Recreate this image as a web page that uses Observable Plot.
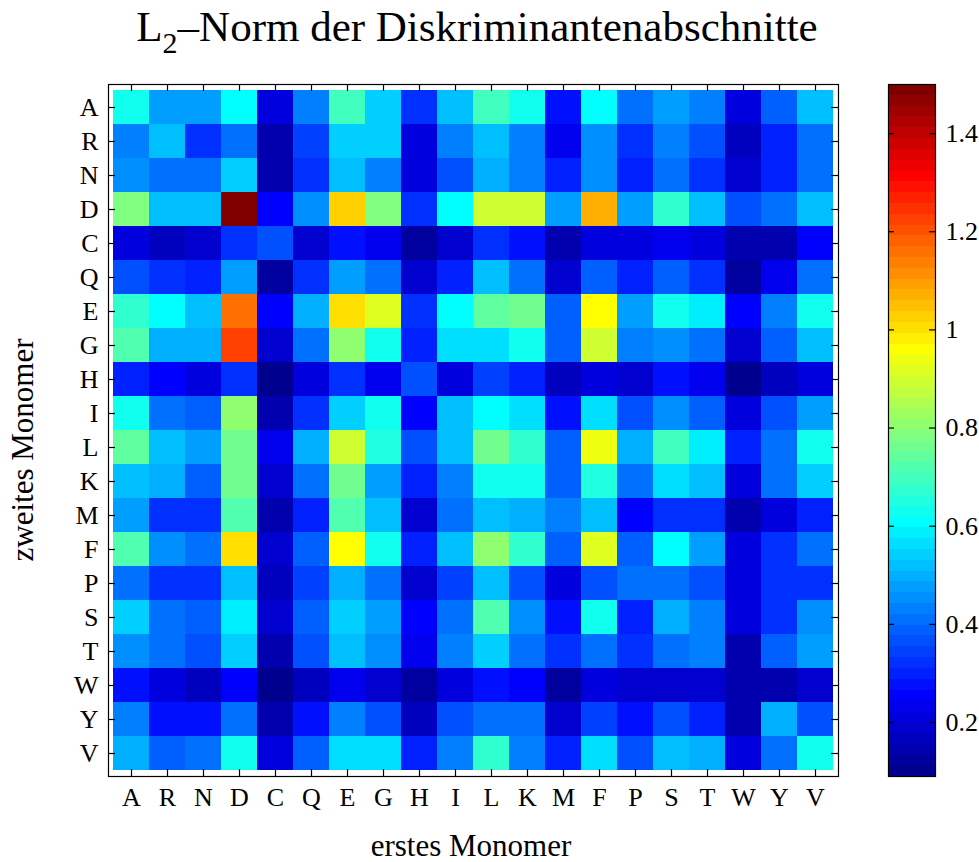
<!DOCTYPE html>
<html>
<head>
<meta charset="utf-8">
<script src="https://cdn.jsdelivr.net/npm/d3@7"></script>
<script src="https://cdn.jsdelivr.net/npm/@observablehq/plot@0.6"></script>
<style>
  html, body { margin: 0; padding: 0; background: #fff; }
  #wrap { position: relative; width: 979px; height: 862px; overflow: hidden; font-family: "Liberation Serif", serif; color: #000; }
  #wrap svg { position: absolute; top: 0; }
  .lbl { position: absolute; white-space: nowrap; font-family: "Liberation Serif", serif; }
</style>
</head>
<body>
<div id="wrap">
  <div class="lbl" id="title" style="left:0;width:954px;top:2px;text-align:center;font-size:43px;">L<sub style="font-size:30px;position:relative;top:12px;vertical-align:baseline;">2</sub>–Norm der Diskriminantenabschnitte</div>
  <div class="lbl" id="xlab" style="left:0;width:942px;top:828px;text-align:center;font-size:31px;">erstes Monomer</div>
  <div class="lbl" id="ylab" style="left:23px;top:450px;font-size:31px;transform:translate(-50%,-50%) rotate(-90deg);">zweites Monomer</div>
</div>
<script>
// Amino-acid order (both axes)
const monomers = ["A","R","N","D","C","Q","E","G","H","I","L","K","M","F","P","S","T","W","Y","V"];

// L2 norm values: rows = zweites Monomer, columns = erstes Monomer (same order as monomers)
const rowA = [0.64,0.48,0.47,0.60,0.22,0.44,0.70,0.55,0.32,0.53,0.70,0.62,0.28,0.60,0.40,0.48,0.44,0.21,0.38,0.53];
const rowR = [0.44,0.53,0.33,0.40,0.14,0.34,0.55,0.55,0.21,0.44,0.52,0.43,0.23,0.45,0.32,0.44,0.36,0.17,0.31,0.40];
const rowN = [0.45,0.40,0.40,0.54,0.15,0.32,0.53,0.44,0.22,0.36,0.50,0.44,0.31,0.45,0.31,0.40,0.33,0.18,0.31,0.40];
const rowD = [0.79,0.53,0.52,1.50,0.26,0.45,1.035,0.79,0.32,0.60,0.89,0.89,0.47,1.07,0.48,0.68,0.53,0.36,0.42,0.51];
const rowC = [0.22,0.16,0.20,0.33,0.36,0.19,0.28,0.23,0.12,0.19,0.33,0.28,0.15,0.21,0.21,0.23,0.21,0.14,0.14,0.26];
const rowQ = [0.37,0.33,0.30,0.47,0.12,0.33,0.48,0.41,0.20,0.31,0.51,0.40,0.20,0.39,0.31,0.39,0.33,0.12,0.24,0.42];
const rowE = [0.68,0.60,0.51,1.15,0.26,0.49,1.01,0.91,0.32,0.60,0.75,0.77,0.38,0.97,0.47,0.62,0.58,0.26,0.44,0.62];
const rowG = [0.72,0.49,0.49,1.23,0.19,0.41,0.81,0.64,0.30,0.56,0.57,0.64,0.38,0.89,0.44,0.45,0.42,0.19,0.38,0.51];
const rowH = [0.31,0.26,0.21,0.33,0.11,0.22,0.33,0.24,0.36,0.22,0.34,0.31,0.16,0.22,0.19,0.28,0.23,0.11,0.16,0.21];
const rowI = [0.62,0.40,0.39,0.81,0.15,0.33,0.55,0.64,0.26,0.51,0.60,0.57,0.28,0.57,0.37,0.45,0.38,0.22,0.36,0.47];
const rowL = [0.75,0.53,0.48,0.77,0.24,0.50,0.89,0.66,0.37,0.53,0.77,0.68,0.38,0.93,0.49,0.70,0.58,0.31,0.42,0.62];
const rowK = [0.53,0.49,0.38,0.77,0.18,0.42,0.77,0.47,0.30,0.43,0.62,0.64,0.38,0.66,0.40,0.57,0.51,0.22,0.41,0.55];
const rowM = [0.48,0.33,0.32,0.72,0.14,0.31,0.72,0.51,0.19,0.40,0.53,0.49,0.44,0.53,0.26,0.32,0.32,0.14,0.21,0.31];
const rowF = [0.72,0.45,0.40,1.01,0.18,0.39,0.95,0.62,0.30,0.51,0.81,0.68,0.38,0.91,0.39,0.60,0.48,0.21,0.33,0.42];
const rowP = [0.40,0.33,0.33,0.53,0.16,0.34,0.49,0.42,0.19,0.34,0.52,0.37,0.21,0.36,0.40,0.41,0.37,0.22,0.32,0.32];
const rowS = [0.55,0.41,0.39,0.59,0.18,0.39,0.55,0.47,0.26,0.42,0.72,0.45,0.28,0.62,0.31,0.50,0.44,0.21,0.32,0.45];
const rowT = [0.45,0.40,0.36,0.54,0.14,0.36,0.53,0.45,0.23,0.43,0.55,0.40,0.32,0.42,0.32,0.42,0.44,0.15,0.39,0.47];
const rowW = [0.28,0.21,0.17,0.26,0.09,0.16,0.23,0.20,0.13,0.22,0.28,0.26,0.12,0.22,0.19,0.20,0.20,0.14,0.15,0.18];
const rowY = [0.44,0.28,0.28,0.41,0.14,0.28,0.44,0.37,0.16,0.37,0.41,0.41,0.20,0.34,0.28,0.36,0.30,0.14,0.49,0.36];
const rowV = [0.50,0.39,0.41,0.62,0.22,0.38,0.56,0.56,0.30,0.44,0.68,0.43,0.30,0.57,0.36,0.53,0.49,0.22,0.40,0.62];
const rows = [rowA,rowR,rowN,rowD,rowC,rowQ,rowE,rowG,rowH,rowI,rowL,rowK,rowM,rowF,rowP,rowS,rowT,rowW,rowY,rowV];

// colour range and colour-bar ticks
const colorDomain = [0.09, 1.5];
const colorTicks = [0.2, 0.4, 0.6, 0.8, 1, 1.2, 1.4];

// MATLAB jet(64) colormap as an interpolator
function jet64(t) {
  const k = Math.max(1, Math.min(64, Math.floor(t * 64) + 1));
  const u = j => (j < 1 || j > 47) ? 0 : j <= 16 ? j / 16 : j <= 31 ? 1 : (17 - (j - 31)) / 16;
  const r = u(k - 24), g = u(k - 8), b = u(k + 8);
  return `rgb(${Math.round(r * 255)},${Math.round(g * 255)},${Math.round(b * 255)})`;
}

const table = [];
rows.forEach((row, i) => row.forEach((v, j) => table.push({first: monomers[j], second: monomers[i], v})));

const colorOpts = {type: "linear", domain: colorDomain, interpolate: jet64};
const font = {fontFamily: "Liberation Serif, serif", fontSize: "26px", background: "transparent", overflow: "visible"};

const plotH = 862 - 84 - 86;
const plotW = 870 - 108 - 32;

const main = Plot.plot({
  width: 870, height: 862,
  marginLeft: 108, marginRight: 32, marginTop: 84, marginBottom: 86,
  style: font,
  x: {domain: monomers, padding: 0, axis: null},
  y: {domain: monomers, padding: 0, axis: null},
  color: colorOpts,
  marks: [
    Plot.cell(table, {x: "first", y: "second", fill: "v", inset: 0, shapeRendering: "crispEdges"}),
    Plot.tickX(monomers, {x: d => d, insetBottom: plotH - 7, stroke: "black", strokeWidth: 1.2}),
    Plot.tickX(monomers, {x: d => d, insetTop: plotH - 7, stroke: "black", strokeWidth: 1.2}),
    Plot.tickY(monomers, {y: d => d, insetRight: plotW - 7, stroke: "black", strokeWidth: 1.2}),
    Plot.tickY(monomers, {y: d => d, insetLeft: plotW - 7, stroke: "black", strokeWidth: 1.2}),
    Plot.frame({stroke: "black", strokeWidth: 1.2}),
    Plot.axisX({anchor: "bottom", tickSize: 0, tickPadding: 11, label: null, fontSize: 26}),
    Plot.axisY({anchor: "left", tickSize: 0, tickPadding: 10, label: null, fontSize: 26})
  ]
});
main.style.left = "0px";

const barLevels = d3.range(64).map(i => {
  const lo = colorDomain[0] + (colorDomain[1] - colorDomain[0]) * i / 64;
  const hi = colorDomain[0] + (colorDomain[1] - colorDomain[0]) * (i + 1) / 64;
  return {lo, hi, mid: (lo + hi) / 2};
});

const bar = Plot.plot({
  width: 119, height: 862,
  marginLeft: 28, marginRight: 44, marginTop: 84, marginBottom: 86,
  style: font,
  y: {domain: colorDomain, axis: null},
  color: colorOpts,
  marks: [
    Plot.rect(barLevels, {y1: "lo", y2: "hi", fill: "mid", shapeRendering: "crispEdges"}),
    Plot.tickY(colorTicks, {y: d => d, insetRight: 47 - 6, stroke: "black", strokeWidth: 1.2}),
    Plot.tickY(colorTicks, {y: d => d, insetLeft: 47 - 6, stroke: "black", strokeWidth: 1.2}),
    Plot.frame({stroke: "black", strokeWidth: 1.2}),
    Plot.axisY({anchor: "right", ticks: colorTicks, tickSize: 0, tickPadding: 10, label: null, fontSize: 26,
      tickFormat: d => String(+d.toFixed(1))})
  ]
});
bar.style.left = "860px";

const wrap = document.getElementById("wrap");
wrap.appendChild(main);
wrap.appendChild(bar);
</script>
</body>
</html>
